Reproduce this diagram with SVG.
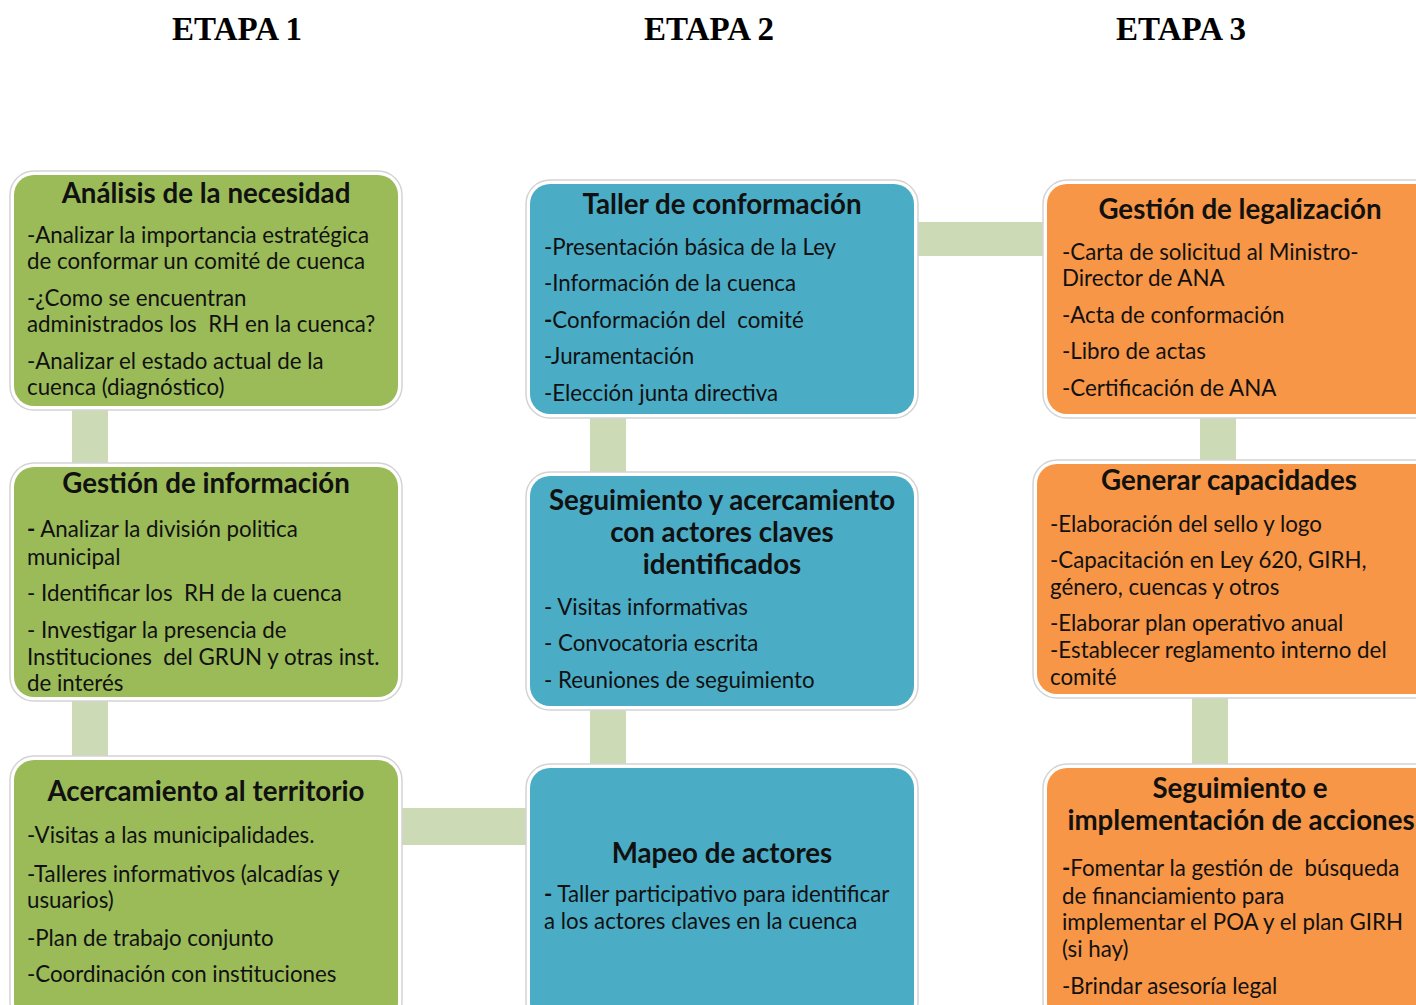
<svg xmlns="http://www.w3.org/2000/svg" width="1416" height="1005" viewBox="0 0 1416 1005">
<style>
.frame{fill:#fff;stroke:#d4d4d4;stroke-width:1.5}
.g{fill:#9BBB59}.b{fill:#4BACC6}.o{fill:#F79646}
.con{fill:#CCDAB5}
.h{font-family:"Liberation Serif",serif;font-weight:bold;font-size:33px;fill:#000;text-anchor:middle}
.t{font-family:Lato,"Open Sans",sans-serif;font-weight:bold;font-size:27.7px;fill:#111;text-anchor:middle}
.x{font-family:Lato,"Open Sans",sans-serif;font-size:22.3px;fill:#111}
</style>
<text class="h" x="237" y="40">ETAPA 1</text>
<text class="h" x="709" y="40">ETAPA 2</text>
<text class="h" x="1181" y="40">ETAPA 3</text>
<g id="connectors">
<rect class="con" x="72" y="408" width="36" height="56"/>
<rect class="con" x="72" y="700" width="36" height="57"/>
<rect class="con" x="400" y="808" width="127" height="37"/>
<rect class="con" x="590" y="416" width="36" height="58"/>
<rect class="con" x="590" y="708" width="36" height="58"/>
<rect class="con" x="916" y="222" width="128" height="34"/>
<rect class="con" x="1200" y="414" width="36" height="48"/>
<rect class="con" x="1192" y="696" width="36" height="69"/>
</g>
<g id="n1">
<rect class="frame" x="10" y="171" width="392" height="239" rx="24"/>
<rect class="g" x="14" y="175" width="384" height="231" rx="20"/>
<text class="t" x="206" y="203">Análisis de la necesidad</text>
<text class="x" x="27" y="243">-Analizar la importancia estratégica</text>
<text class="x" x="27" y="269">de conformar un comité de cuenca</text>
<text class="x" x="27" y="306">-¿Como se encuentran</text>
<text class="x" x="27" y="332" xml:space="preserve">administrados los  RH en la cuenca?</text>
<text class="x" x="27" y="369">-Analizar el estado actual de la</text>
<text class="x" x="27" y="395">cuenca (diagnóstico)</text>
</g>
<g id="n2">
<rect class="frame" x="10" y="463" width="392" height="238" rx="24"/>
<rect class="g" x="14" y="467" width="384" height="230" rx="20"/>
<text class="t" x="206" y="493">Gestión de información</text>
<text class="x" x="27" y="537"><tspan font-weight="bold">-</tspan> Analizar la división politica</text>
<text class="x" x="27" y="565">municipal</text>
<text class="x" x="27" y="601" xml:space="preserve">- Identificar los  RH de la cuenca</text>
<text class="x" x="27" y="638">- Investigar la presencia de</text>
<text class="x" x="27" y="665" xml:space="preserve">Instituciones  del GRUN y otras inst.</text>
<text class="x" x="27" y="691">de interés</text>
</g>
<g id="n3">
<rect class="frame" x="10" y="756" width="392" height="270" rx="24"/>
<rect class="g" x="14" y="760" width="384" height="262" rx="20"/>
<text class="t" x="206" y="801">Acercamiento al territorio</text>
<text class="x" x="27" y="843">-Visitas a las municipalidades.</text>
<text class="x" x="27" y="882">-Talleres informativos (alcadías y</text>
<text class="x" x="27" y="908">usuarios)</text>
<text class="x" x="27" y="946">-Plan de trabajo conjunto</text>
<text class="x" x="27" y="982">-Coordinación con instituciones</text>
</g>
<g id="n4">
<rect class="frame" x="526" y="180" width="392" height="238" rx="24"/>
<rect class="b" x="530" y="184" width="384" height="230" rx="20"/>
<text class="t" x="722" y="214">Taller de conformación</text>
<text class="x" x="544" y="255">-Presentación básica de la Ley</text>
<text class="x" x="544" y="291">-Información de la cuenca</text>
<text class="x" x="544" y="328" xml:space="preserve"><tspan font-weight="bold">-</tspan>Conformación del  comité</text>
<text class="x" x="544" y="364">-Juramentación</text>
<text class="x" x="544" y="401">-Elección junta directiva</text>
</g>
<g id="n5">
<rect class="frame" x="526" y="472" width="392" height="238" rx="24"/>
<rect class="b" x="530" y="476" width="384" height="230" rx="20"/>
<text class="t" x="722" y="510">Seguimiento y acercamiento</text>
<text class="t" x="722" y="542">con actores claves</text>
<text class="t" x="722" y="574">identificados</text>
<text class="x" x="544" y="615">- Visitas informativas</text>
<text class="x" x="544" y="651">- Convocatoria escrita</text>
<text class="x" x="544" y="688">- Reuniones de seguimiento</text>
</g>
<g id="n6">
<rect class="frame" x="526" y="764" width="392" height="262" rx="24"/>
<rect class="b" x="530" y="768" width="384" height="254" rx="20"/>
<text class="t" x="722" y="863">Mapeo de actores</text>
<text class="x" x="544" y="902"><tspan font-weight="bold">-</tspan> Taller participativo para identificar</text>
<text class="x" x="544" y="929">a los actores claves en la cuenca</text>
</g>
<g id="n7">
<rect class="frame" x="1043" y="180" width="400" height="238" rx="24"/>
<rect class="o" x="1047" y="184" width="392" height="230" rx="20"/>
<text class="t" x="1240" y="219">Gestión de legalización</text>
<text class="x" x="1062" y="260">-Carta de solicitud al Ministro-</text>
<text class="x" x="1062" y="286">Director de ANA</text>
<text class="x" x="1062" y="323">-Acta de conformación</text>
<text class="x" x="1062" y="359">-Libro de actas</text>
<text class="x" x="1062" y="396">-Certificación de ANA</text>
</g>
<g id="n8">
<rect class="frame" x="1033" y="460" width="410" height="238" rx="24"/>
<rect class="o" x="1037" y="464" width="402" height="230" rx="20"/>
<text class="t" x="1229" y="490">Generar capacidades</text>
<text class="x" x="1050" y="532">-Elaboración del sello y logo</text>
<text class="x" x="1050" y="568">-Capacitación en Ley 620, GIRH,</text>
<text class="x" x="1050" y="595">género, cuencas y otros</text>
<text class="x" x="1050" y="631">-Elaborar plan operativo anual</text>
<text class="x" x="1050" y="658">-Establecer reglamento interno del</text>
<text class="x" x="1050" y="685">comité</text>
</g>
<g id="n9">
<rect class="frame" x="1043" y="764" width="400" height="262" rx="24"/>
<rect class="o" x="1047" y="768" width="392" height="254" rx="20"/>
<text class="t" x="1240" y="798">Seguimiento e</text>
<text class="t" x="1241" y="830">implementación de acciones</text>
<text class="x" x="1062" y="876" xml:space="preserve"><tspan font-weight="bold">-</tspan>Fomentar la gestión de  búsqueda</text>
<text class="x" x="1062" y="904">de financiamiento para</text>
<text class="x" x="1062" y="930">implementar el POA y el plan GIRH</text>
<text class="x" x="1062" y="957">(si hay)</text>
<text class="x" x="1062" y="994">-Brindar asesoría legal</text>
</g>
</svg>
